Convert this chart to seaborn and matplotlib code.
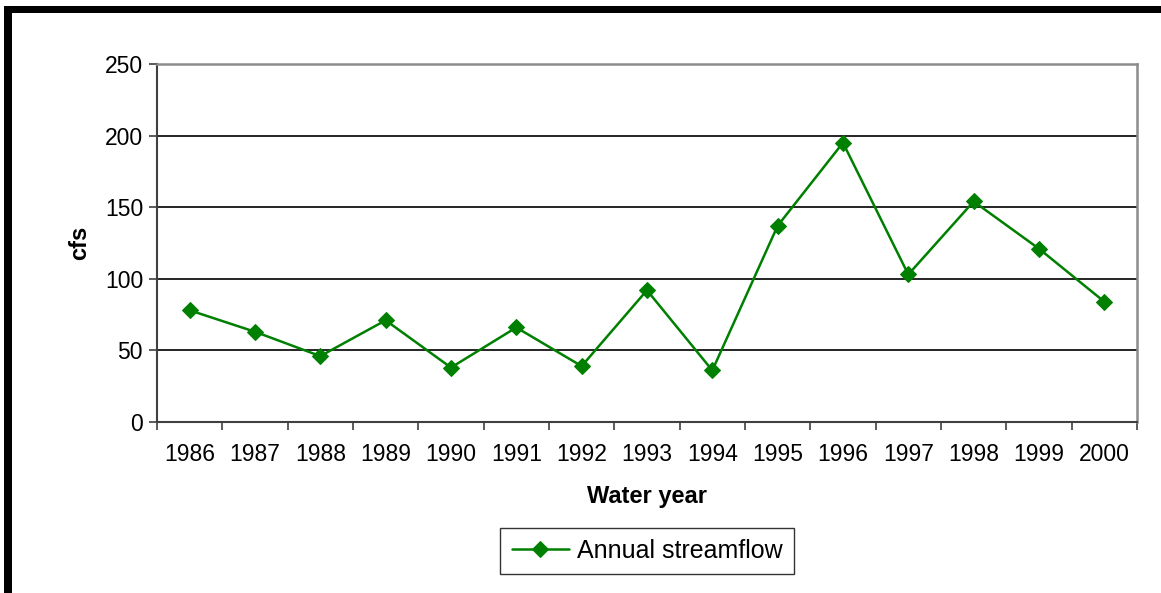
import numpy as np
import pandas as pd
import matplotlib
matplotlib.use("Agg")
import matplotlib.pyplot as plt
import seaborn as sns
from matplotlib.patches import Rectangle

years = ["1986", "1987", "1988", "1989", "1990", "1991", "1992", "1993",
         "1994", "1995", "1996", "1997", "1998", "1999", "2000"]
streamflow = [78, 63, 46, 71, 38, 66, 39, 92, 36, 137, 195, 103, 154, 121, 84]
yticks = [0, 50, 100, 150, 200, 250]

sns.set_style("white")
plt.rcParams["font.family"] = ["Liberation Sans", "DejaVu Sans"]
plt.rcParams["text.color"] = "black"
plt.rcParams["xtick.color"] = "black"
plt.rcParams["ytick.color"] = "black"
plt.rcParams["axes.labelcolor"] = "black"

df = pd.DataFrame({"pos": np.arange(len(years)), "cfs": streamflow})

fig = plt.figure(figsize=(11.61, 5.93), dpi=100)
ax = fig.add_axes([0.1352, 0.2884, 0.8441, 0.6037])

green = "#008000"
sns.lineplot(data=df, x="pos", y="cfs", ax=ax, color=green, lw=1.8,
             marker="D", markersize=8, markeredgecolor=green,
             label="Annual streamflow")

ax.set_xlim(-0.5, len(years) - 0.5)
ax.set_ylim(0, 250)
ax.set_yticks(yticks)
ax.set_yticklabels([str(t) for t in yticks], fontsize=16.5)
ax.yaxis.grid(True, color="black", lw=1.2)
ax.set_axisbelow(True)

# tick marks between categories, labels in the middle
ax.set_xticks(np.arange(-0.5, len(years), 1.0))
ax.set_xticklabels([])
ax.set_xticks(np.arange(len(years)), minor=True)
ax.set_xticklabels(years, minor=True, fontsize=16.5)
ax.tick_params(axis="x", which="major", direction="out", length=6, width=1.2,
               color="#404040", bottom=True)
ax.tick_params(axis="x", which="minor", length=0, pad=15)
ax.tick_params(axis="y", direction="out", length=6, width=1.2,
               color="#404040", left=True, pad=4)

for side in ["top", "right"]:
    ax.spines[side].set_color("#8c8c8c")
    ax.spines[side].set_linewidth(1.8)
for side in ["left", "bottom"]:
    ax.spines[side].set_color("#404040")
    ax.spines[side].set_linewidth(1.5)

ax.set_xlabel("Water year", fontsize=17, fontweight="bold", labelpad=14)
ax.set_ylabel("cfs", fontsize=17, fontweight="bold", labelpad=10)

leg = ax.legend(loc="upper center", bbox_to_anchor=(0.5, -0.261),
                fontsize=18, frameon=True, fancybox=False, handlelength=2.3,
                borderpad=0.45, handletextpad=0.3)
leg.get_frame().set_edgecolor("black")
leg.get_frame().set_linewidth(1.0)

# thick black frame lines on top and left of the figure
fig.add_artist(Rectangle((4 / 1161, 1 - 13 / 593), 1.0, 7 / 593,
                         transform=fig.transFigure, color="black", lw=0))
fig.add_artist(Rectangle((4 / 1161, 0), 8 / 1161, 1 - 6 / 593,
                         transform=fig.transFigure, color="black", lw=0))

fig.savefig("out.png", dpi=100, facecolor="white")
